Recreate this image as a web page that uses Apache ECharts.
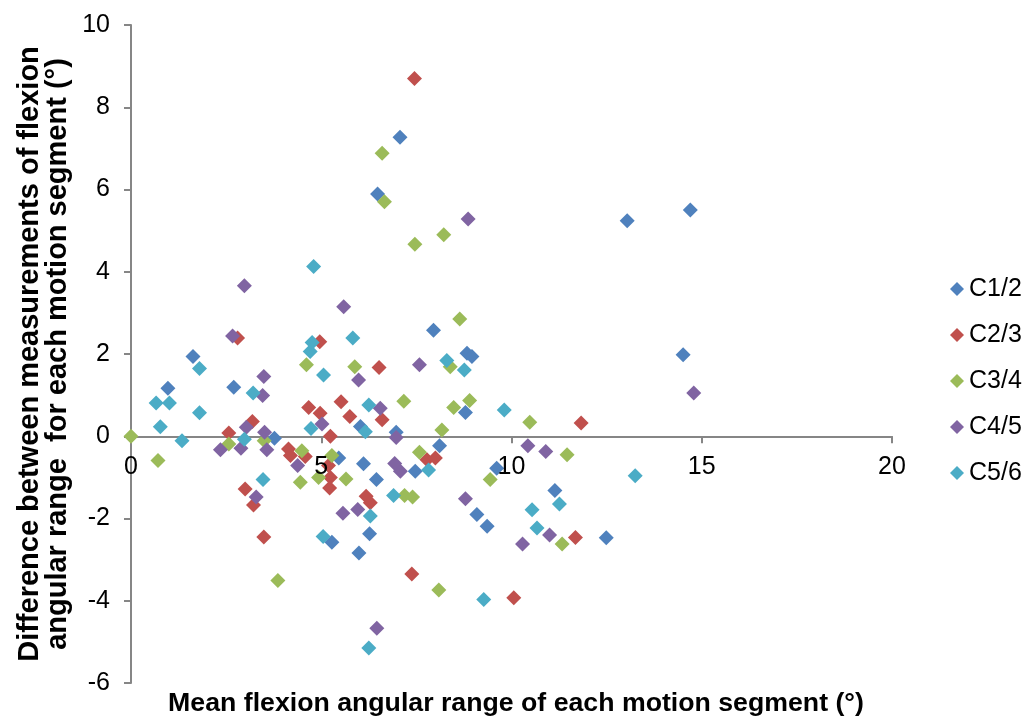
<!DOCTYPE html>
<html>
<head>
<meta charset="utf-8">
<script src="https://cdn.jsdelivr.net/npm/echarts@6/dist/echarts.min.js"></script>
<style>
  html, body { margin: 0; padding: 0; background: #ffffff; }
  #chart { width: 1032px; height: 722px; }
</style>
</head>
<body>
<div id="chart"></div>
<script>
// Segment names (legend order)
const segmentNames = ['C1/2', 'C2/3', 'C3/4', 'C4/5', 'C5/6'];

// Mean flexion angular range (x) and difference between measurements (y), per segment
const c12X = [0.97, 1.63, 2.70, 3.77, 5.46, 6.03, 6.11, 6.45, 6.97, 7.47, 7.95, 8.11, 8.79, 8.83, 8.96, 9.09, 9.36, 9.61, 11.14, 12.49, 13.04, 14.51, 14.70, 5.28, 5.99, 6.27, 6.48, 7.07];
const c12Y = [1.17, 1.94, 1.19, -0.05, -0.53, 0.24, -0.67, -1.05, 0.10, -0.85, 2.58, -0.23, 0.58, 2.02, 1.94, -1.90, -2.19, -0.78, -1.32, -2.47, 5.24, 1.98, 5.50, -2.58, -2.84, -2.37, 5.89, 7.27];

const c23X = [2.57, 2.80, 3.00, 3.19, 3.22, 3.49, 4.14, 4.19, 4.58, 4.67, 4.96, 4.97, 5.19, 5.24, 5.22, 5.24, 5.52, 5.75, 6.18, 6.29, 6.52, 6.60, 7.38, 7.45, 7.78, 8.00, 10.06, 11.68, 11.83];
const c23Y = [0.08, 2.39, -1.28, 0.36, -1.67, -2.45, -0.31, -0.47, -0.49, 0.70, 2.30, 0.56, -0.71, -1.00, -1.26, 0.00, 0.84, 0.48, -1.46, -1.62, 1.67, 0.40, -3.35, 8.70, -0.57, -0.53, -3.93, -2.46, 0.32];

const c34X = [0.00, 0.71, 2.57, 3.50, 3.86, 4.49, 4.45, 4.61, 4.93, 5.28, 5.65, 5.88, 6.60, 6.66, 7.17, 7.19, 7.40, 7.46, 7.58, 8.09, 8.17, 8.22, 8.39, 8.48, 8.64, 8.90, 9.44, 10.48, 11.33, 11.46];
const c34Y = [0.00, -0.59, -0.19, -0.11, -3.51, -0.35, -1.12, 1.74, -1.00, -0.47, -1.04, 1.69, 6.88, 5.70, 0.85, -1.44, -1.48, 4.67, -0.39, -3.74, 0.15, 4.90, 1.69, 0.70, 2.85, 0.87, -1.05, 0.34, -2.62, -0.45];

const c45X = [2.35, 2.67, 2.89, 2.98, 3.03, 3.29, 3.46, 3.49, 3.51, 3.57, 4.38, 5.02, 5.57, 5.59, 5.96, 5.98, 6.46, 6.55, 6.93, 6.97, 7.08, 7.58, 8.79, 8.86, 10.29, 10.43, 10.90, 11.00, 14.79];
const c45Y = [-0.33, 2.44, -0.29, 3.66, 0.22, -1.48, 0.99, 1.45, 0.10, -0.33, -0.71, 0.30, -1.87, 3.15, -1.78, 1.37, -4.67, 0.68, -0.66, -0.03, -0.85, 1.74, -1.52, 5.28, -2.62, -0.23, -0.37, -2.40, 1.05];

const c56X = [0.66, 0.77, 1.01, 1.34, 1.80, 1.80, 2.98, 3.21, 3.47, 4.73, 4.71, 4.76, 4.80, 5.05, 5.06, 5.83, 6.16, 6.25, 6.25, 6.29, 6.90, 7.82, 8.30, 8.76, 9.27, 9.81, 10.54, 10.67, 11.26, 13.25];
const c56Y = [0.81, 0.23, 0.81, -0.11, 0.57, 1.65, -0.07, 1.05, -1.05, 0.19, 2.06, 2.28, 4.13, -2.44, 1.49, 2.39, 0.11, 0.76, -5.15, -1.94, -1.44, -0.82, 1.84, 1.61, -3.97, 0.64, -1.79, -2.23, -1.65, -0.96];

// Axis ranges and tick steps
const xMin = 0, xMax = 20, xStep = 5;
const yMin = -6, yMax = 10, yStep = 2;
const xTickLabels = ['0', '5', '10', '15', '20'];

const xTitle = 'Mean flexion angular range of each motion segment (°)';
const yTitleLines = ['Difference between measurements of flexion', 'angular range  for each motion segment (°)'];

const palette = ['#4F81BD', '#C0504D', '#9BBB59', '#8064A2', '#4BACC6'];
const FONT = "'Liberation Sans', Arial, Helvetica, sans-serif";

function pairs(xs, ys) {
  return xs.map((x, i) => [x, ys[i]]);
}

const seriesData = [
  pairs(c12X, c12Y),
  pairs(c23X, c23Y),
  pairs(c34X, c34Y),
  pairs(c45X, c45Y),
  pairs(c56X, c56Y)
];

const chart = echarts.init(document.getElementById('chart'), null, { renderer: 'canvas' });

const axisLineStyle = { color: '#868686', width: 2 };

const titleGraphics = [
  {
    type: 'text',
    id: 'xTitle',
    left: 'center',
    top: 690,
    style: {
      text: xTitle,
      fontFamily: FONT,
      fontSize: 26.7,
      fontWeight: 'bold',
      fill: '#000000'
    }
  },
  {
    type: 'text',
    id: 'yTitle',
    x: 44,
    y: 354,
    rotation: Math.PI / 2,
    style: {
      text: yTitleLines.join('\n'),
      fontFamily: FONT,
      fontSize: 29,
      fontWeight: 'bold',
      lineHeight: 28,
      fill: '#000000',
      align: 'center',
      verticalAlign: 'middle'
    }
  }
];

chart.setOption({
  animation: false,
  backgroundColor: '#ffffff',
  color: palette,
  grid: { left: 131, right: 140, top: 25, bottom: 39 },
  legend: {
    orient: 'vertical',
    left: 945,
    top: 271,
    icon: 'diamond',
    itemWidth: 14,
    itemHeight: 14,
    itemGap: 20,
    data: segmentNames,
    textStyle: { fontFamily: FONT, fontSize: 25, color: '#000000', lineHeight: 26 }
  },
  xAxis: {
    type: 'value',
    min: xMin,
    max: xMax,
    interval: xStep,
    axisLine: { show: true, onZero: true, lineStyle: axisLineStyle },
    axisTick: { show: true, length: 7, lineStyle: axisLineStyle },
    splitLine: { show: false },
    axisLabel: { show: false }
  },
  yAxis: {
    type: 'value',
    min: yMin,
    max: yMax,
    interval: yStep,
    axisLine: { show: true, onZero: false, lineStyle: axisLineStyle },
    axisTick: { show: true, length: 7, lineStyle: axisLineStyle },
    splitLine: { show: false },
    axisLabel: { fontFamily: FONT, fontSize: 25, color: '#000000', margin: 21 }
  },
  graphic: titleGraphics,
  series: segmentNames.map((name, i) => ({
    name: name,
    type: 'scatter',
    symbol: 'diamond',
    symbolSize: 15,
    data: seriesData[i],
    itemStyle: { color: palette[i], opacity: 1 }
  }))
});

// X tick labels sit just under the x axis, which crosses at y = 0
const xLabelGraphics = xTickLabels.map((label, i) => {
  const p = chart.convertToPixel({ gridIndex: 0 }, [xMin + i * xStep, 0]);
  return {
    type: 'text',
    x: p[0],
    y: p[1] + 18,
    z: 10,
    style: {
      text: label,
      fontFamily: FONT,
      fontSize: 25,
      fill: '#000000',
      align: 'center',
      verticalAlign: 'top'
    }
  };
});

chart.setOption({ graphic: titleGraphics.concat(xLabelGraphics) });
</script>
</body>
</html>
